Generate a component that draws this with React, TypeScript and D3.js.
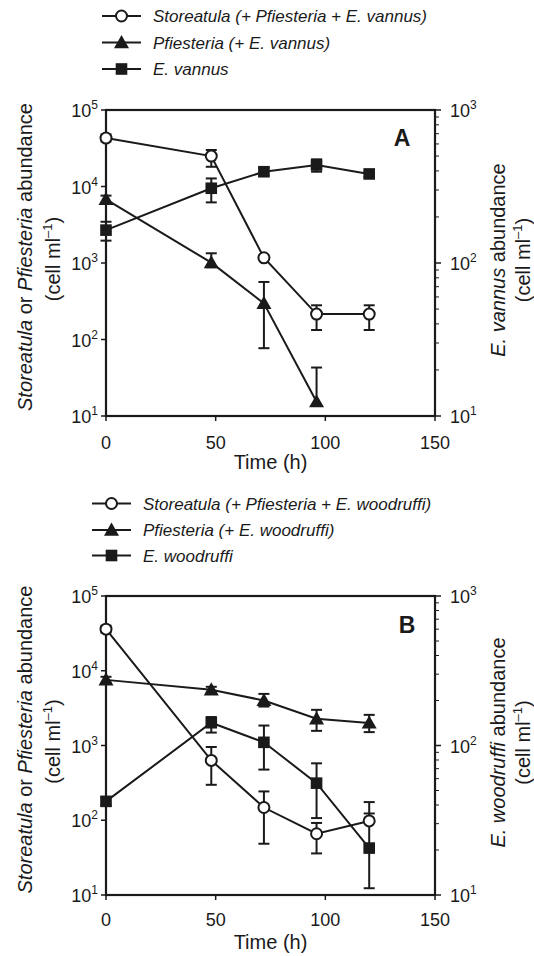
import React from "react";
import * as d3 from "d3";

const TIMES = [0, 48, 72, 96, 120];
const X_TICKS = [0, 50, 100, 150];
const LEFT_EXP = [1, 2, 3, 4, 5];
const RIGHT_EXP = [1, 2, 3];

// Panel A
const STOR_A = [43000, 25000, 1170, 215, 215];
const STOR_A_HI = [48000, 30000, null, 280, 280];
const STOR_A_LO = [39000, 18100, null, 133, 133];
const PF_A = [6800, 1010, 297, 15.4];
const PF_A_HI = [7600, 1340, 565, 43];
const PF_A_LO = [6100, 880, 77, null];
const VAN_A = [164, 308, 395, 437, 382];
const VAN_A_HI = [186, 357, 420, 476, 400];
const VAN_A_LO = [140, 249, 372, 395, 365];

// Panel B
const STOR_B = [36000, 632, 148, 66, 98];
const STOR_B_HI = [40000, 955, 243, 92, 175];
const STOR_B_LO = [32500, 298, 48.5, 36, null];
const PF_B = [7550, 5560, 4000, 2275, 2000];
const PF_B_HI = [8300, 6100, 4900, 3000, 2570];
const PF_B_LO = [6900, 5100, 3320, 1570, 1510];
const WOOD_B = [42.3, 142, 105, 56, 20.6];
const WOOD_B_HI = [45, 155, 136, 76, 35.1];
const WOOD_B_LO = [40, 122, 69, 32.7, 11.1];

const FONT = "'Liberation Sans', Arial, Helvetica, sans-serif";
const INK = "#1a1a1a";

type Series = {
  vals: number[];
  hi: (number | null)[];
  lo: (number | null)[];
  marker: "circle" | "triangle" | "square";
  axis: "left" | "right";
};

function Marker({ kind, x, y }: { kind: string; x: number; y: number }) {
  if (kind === "circle")
    return <circle cx={x} cy={y} r={5.5} fill="#fff" stroke={INK} strokeWidth={2} />;
  if (kind === "square")
    return <rect x={x - 5.8} y={y - 5.8} width={11.6} height={11.6} fill={INK} />;
  const s = 7.5;
  return (
    <path
      d={`M${x},${y - s}L${x + s},${y + s * 0.75}L${x - s},${y + s * 0.75}Z`}
      fill={INK}
    />
  );
}

type PanelProps = {
  top: number;
  bottom: number;
  letter: string;
  letterX: number;
  letterY: number;
  legendRows: number[];
  legendX0: number;
  legendTextX: number;
  legendTexts: string[];
  series: Series[];
  tickLabelY: number;
  timeY: number;
  rightName: string;
};

const LEFT = 106;
const RIGHT = 435;

function Panel(p: PanelProps) {
  const x = d3.scaleLinear().domain([0, 150]).range([LEFT, RIGHT]);
  const yL = d3.scaleLog().domain([10, 1e5]).range([p.bottom, p.top]);
  const yR = d3.scaleLog().domain([10, 1e3]).range([p.bottom, p.top]);
  const line = (ys: any) =>
    d3
      .line<number>()
      .x((_, i) => x(TIMES[i]))
      .y((v) => ys(v));
  const minor: number[] = [];
  for (let e = 1; e < 3; e++)
    for (let m = 2; m <= 9; m++) minor.push(m * Math.pow(10, e));
  const cy = (p.top + p.bottom) / 2;
  const markers = ["circle", "triangle", "square"];

  return (
    <g fontFamily={FONT} fill={INK}>
      {/* legend */}
      {p.legendRows.map((ry, i) => (
        <g key={"lg" + i}>
          <line
            x1={p.legendX0}
            x2={p.legendX0 + 39}
            y1={ry}
            y2={ry}
            stroke={INK}
            strokeWidth={2.2}
          />
          <Marker kind={markers[i]} x={p.legendX0 + 19.5} y={ry} />
          <text
            x={p.legendTextX}
            y={ry}
            dy="0.36em"
            fontSize={17}
            fontStyle="italic"
          >
            {p.legendTexts[i]}
          </text>
        </g>
      ))}
      {/* frame */}
      <rect
        x={LEFT}
        y={p.top}
        width={RIGHT - LEFT}
        height={p.bottom - p.top}
        fill="none"
        stroke={INK}
        strokeWidth={2.2}
      />
      {/* x ticks */}
      {X_TICKS.map((t) => (
        <g key={"xt" + t}>
          <line x1={x(t)} x2={x(t)} y1={p.bottom} y2={p.bottom + 5} stroke={INK} strokeWidth={1.5} />
          <text x={x(t)} y={p.tickLabelY} dy="0.36em" textAnchor="middle" fontSize={18}>
            {t}
          </text>
        </g>
      ))}
      <text x={(LEFT + RIGHT) / 2} y={p.timeY} textAnchor="middle" fontSize={20}>
        Time (h)
      </text>
      {/* left ticks */}
      {LEFT_EXP.map((e) => {
        const yy = yL(Math.pow(10, e));
        return (
          <g key={"lt" + e}>
            <line x1={LEFT - 5} x2={LEFT} y1={yy} y2={yy} stroke={INK} strokeWidth={1.5} />
            <text x={LEFT - 8} y={yy + 7} textAnchor="end" fontSize={18}>
              10
              <tspan dy={-8} fontSize={12}>
                {e}
              </tspan>
            </text>
          </g>
        );
      })}
      {/* right ticks */}
      {RIGHT_EXP.map((e) => {
        const yy = yR(Math.pow(10, e));
        return (
          <g key={"rt" + e}>
            <line x1={RIGHT} x2={RIGHT + 6} y1={yy} y2={yy} stroke={INK} strokeWidth={1.5} />
            <text x={RIGHT + 15} y={yy + 7} fontSize={18}>
              10
              <tspan dy={-8} fontSize={12}>
                {e}
              </tspan>
            </text>
          </g>
        );
      })}
      {minor.map((v) => (
        <line
          key={"mn" + v}
          x1={RIGHT}
          x2={RIGHT + 4}
          y1={yR(v)}
          y2={yR(v)}
          stroke={INK}
          strokeWidth={1}
        />
      ))}
      {/* axis labels */}
      <g transform={`translate(25,${cy - 6}) rotate(-90)`}>
        <text textAnchor="middle" dy="0.36em" fontSize={20}>
          <tspan fontStyle="italic">Storeatula</tspan> or{" "}
          <tspan fontStyle="italic">Pfiesteria</tspan> abundance
        </text>
      </g>
      <g transform={`translate(53,${cy - 4}) rotate(-90)`}>
        <text textAnchor="middle" dy="0.36em" fontSize={20}>
          (cell ml
          <tspan dy={-8} fontSize={13}>
            –1
          </tspan>
          <tspan dy={8}>)</tspan>
        </text>
      </g>
      <g transform={`translate(498,${cy - 3}) rotate(-90)`}>
        <text textAnchor="middle" dy="0.36em" fontSize={20}>
          <tspan fontStyle="italic">{p.rightName}</tspan> abundance
        </text>
      </g>
      <g transform={`translate(523,${cy - 3}) rotate(-90)`}>
        <text textAnchor="middle" dy="0.36em" fontSize={20}>
          (cell ml
          <tspan dy={-8} fontSize={13}>
            –1
          </tspan>
          <tspan dy={8}>)</tspan>
        </text>
      </g>
      {/* panel letter */}
      <text
        x={p.letterX}
        y={p.letterY}
        dy="0.36em"
        textAnchor="middle"
        fontSize={23}
        fontWeight="bold"
      >
        {p.letter}
      </text>
      {/* lines */}
      {p.series.map((s, i) => (
        <path
          key={"ln" + i}
          d={line(s.axis === "left" ? yL : yR)(s.vals) || ""}
          fill="none"
          stroke={INK}
          strokeWidth={2}
        />
      ))}
      {/* error bars */}
      {p.series.map((s, i) => {
        const ys = s.axis === "left" ? yL : yR;
        return s.vals.map((v, j) => {
          const xx = x(TIMES[j]);
          const hi = s.hi[j];
          const lo = s.lo[j];
          return (
            <g key={"eb" + i + "_" + j} stroke={INK} strokeWidth={2}>
              {hi != null && (
                <>
                  <line x1={xx} x2={xx} y1={ys(v)} y2={ys(hi)} />
                  <line x1={xx - 5.5} x2={xx + 5.5} y1={ys(hi)} y2={ys(hi)} />
                </>
              )}
              {lo != null && (
                <>
                  <line x1={xx} x2={xx} y1={ys(v)} y2={ys(lo)} />
                  <line x1={xx - 5.5} x2={xx + 5.5} y1={ys(lo)} y2={ys(lo)} />
                </>
              )}
            </g>
          );
        });
      })}
      {/* markers */}
      {p.series.map((s, i) => {
        const ys = s.axis === "left" ? yL : yR;
        return s.vals.map((v, j) => (
          <Marker key={"mk" + i + "_" + j} kind={s.marker} x={x(TIMES[j])} y={ys(v)} />
        ));
      })}
    </g>
  );
}

export default function App() {
  const seriesA: Series[] = [
    { vals: VAN_A, hi: VAN_A_HI, lo: VAN_A_LO, marker: "square", axis: "right" },
    { vals: PF_A, hi: PF_A_HI, lo: PF_A_LO, marker: "triangle", axis: "left" },
    { vals: STOR_A, hi: STOR_A_HI, lo: STOR_A_LO, marker: "circle", axis: "left" },
  ];
  const seriesB: Series[] = [
    { vals: WOOD_B, hi: WOOD_B_HI, lo: WOOD_B_LO, marker: "square", axis: "right" },
    { vals: PF_B, hi: PF_B_HI, lo: PF_B_LO, marker: "triangle", axis: "left" },
    { vals: STOR_B, hi: STOR_B_HI, lo: STOR_B_LO, marker: "circle", axis: "left" },
  ];
  return (
    <svg
      width={534}
      height={956}
      style={{ position: "absolute", left: 0, top: 0, background: "#fff" }}
    >
      <rect width={534} height={956} fill="#fff" />
      <Panel
        top={110}
        bottom={416}
        letter="A"
        letterX={402}
        letterY={138}
        legendRows={[16, 42.5, 69]}
        legendX0={102}
        legendTextX={153}
        legendTexts={[
          "Storeatula  (+ Pfiesteria + E. vannus)",
          "Pfiesteria  (+ E. vannus)",
          "E. vannus",
        ]}
        series={seriesA}
        tickLabelY={443}
        timeY={469}
        rightName="E. vannus"
      />
      <Panel
        top={596}
        bottom={895}
        letter="B"
        letterX={407}
        letterY={625}
        legendRows={[503.5, 530, 555.5]}
        legendX0={92}
        legendTextX={143}
        legendTexts={[
          "Storeatula  (+ Pfiesteria + E. woodruffi)",
          "Pfiesteria  (+ E. woodruffi)",
          "E. woodruffi",
        ]}
        series={seriesB}
        tickLabelY={920}
        timeY={949}
        rightName="E. woodruffi"
      />
    </svg>
  );
}
